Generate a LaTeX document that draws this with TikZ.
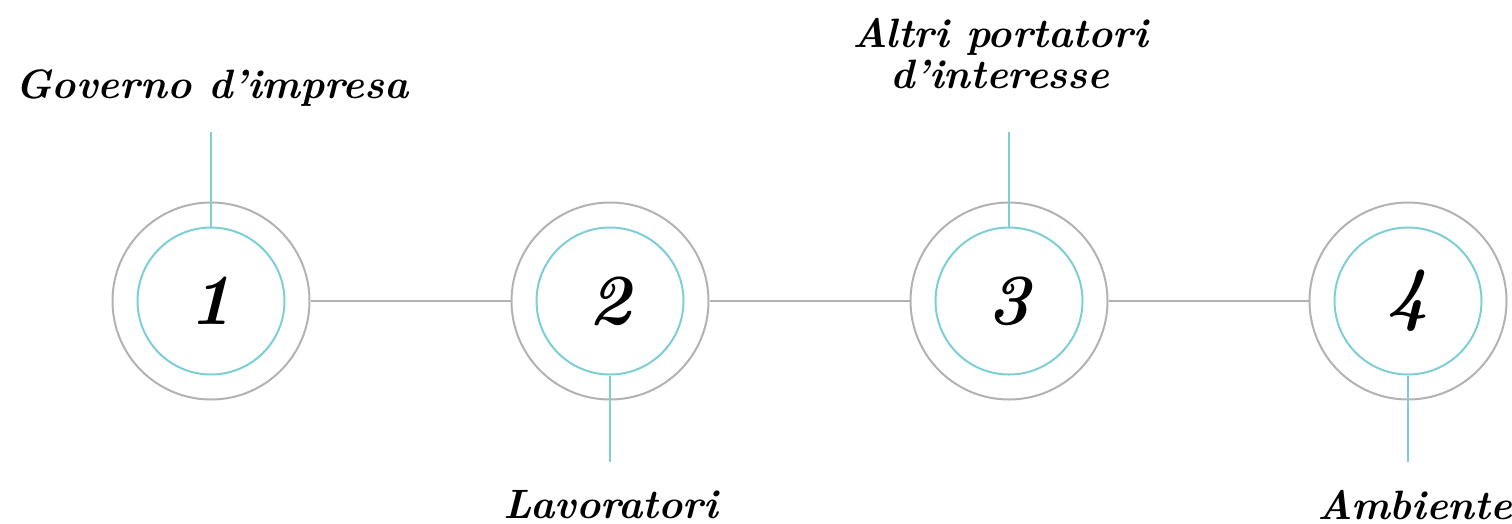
\documentclass[tikz,border=0pt]{standalone}
\usepackage{tikz}
\usetikzlibrary{positioning}
\definecolor{ringgray}{RGB}{178,178,181}
\definecolor{ringteal}{RGB}{126,206,214}

\begin{document}
\begin{tikzpicture}[x=1pt,y=-1pt,
  outerring/.style={circle, draw=ringgray, line width=2pt, minimum size=197pt, inner sep=0pt},
  innerring/.style={circle, draw=ringteal, line width=2pt, minimum size=147pt, inner sep=0pt,
    font=\fontsize{72}{72}\selectfont\bfseries\itshape},
  stagelabel/.style={anchor=base, inner sep=0pt, align=center,
    font=\fontsize{41}{41}\selectfont\bfseries\itshape},
  grayline/.style={draw=ringgray, line width=2pt},
  tealline/.style={draw=ringteal, line width=2pt}]
\useasboundingbox (0,0) rectangle (1512,523);
\node[outerring](o1) at (211,301){};
\node[outerring](o2) at (610,301){};
\node[outerring](o3) at (1009,301){};
\node[outerring](o4) at (1408,301){};
\node[innerring](i1) at (o1){1};
\node[innerring](i2) at (o2){2};
\node[innerring](i3) at (o3){3};
\node[innerring](i4) at (o4){4};
\draw[grayline](o1.east)--(o2.west);
\draw[grayline](o2.east)--(o3.west);
\draw[grayline](o3.east)--(o4.west);
\node[stagelabel](l1) at (212,98){Governo d'impresa};
\node[stagelabel](l2) at (611,518){Lavoratori};
\node[stagelabel](l3) at (1000,88){Altri portatori\\d'interesse};
\node[stagelabel](l4) at (1415,519){Ambiente};
\coordinate (t1) at (211,132);
\coordinate (t2) at (610,462);
\coordinate (t3) at (1009,132);
\coordinate (t4) at (1408,462);
\draw[tealline](i1.north)--(t1);
\draw[tealline](i2.south)--(t2);
\draw[tealline](i3.north)--(t3);
\draw[tealline](i4.south)--(t4);
\end{tikzpicture}
\end{document}
